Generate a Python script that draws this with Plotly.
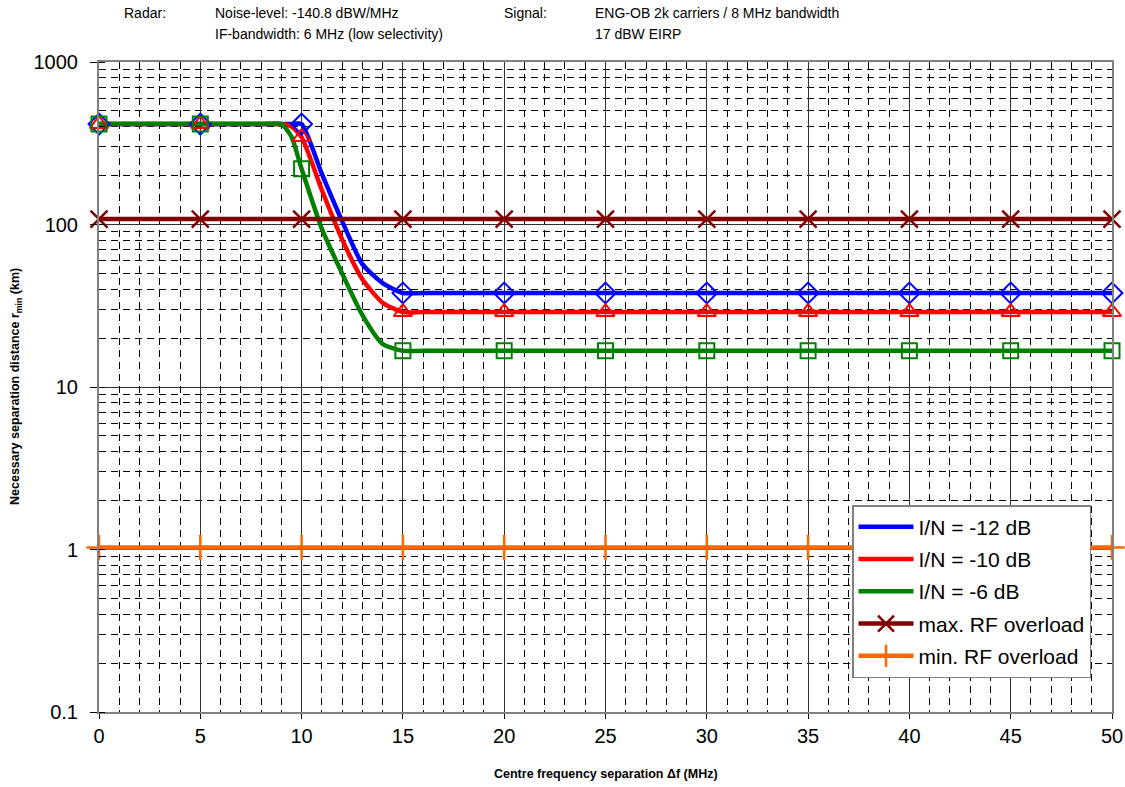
import plotly.graph_objects as go

# Centre frequency separation (MHz) for the interference curves
freq = [0, 5, 8, 9, 9.5, 10, 11, 12, 13, 14, 15, 16, 20, 25, 30, 35, 40, 45, 50]
# Necessary separation distance (km) per protection criterion
in_12 = [415, 415, 415, 415, 415, 415, 205, 105, 57, 43.6, 37.9, 37.9, 37.9, 37.9, 37.9, 37.9, 37.9, 37.9, 37.9]
in_10 = [415, 415, 415, 415, 400, 345, 163, 81, 46, 33, 28.9, 28.9, 28.9, 28.9, 28.9, 28.9, 28.9, 28.9, 28.9]
in_6 = [415, 415, 415, 415, 347, 220, 94, 50, 27.7, 18.4, 16.7, 16.7, 16.7, 16.7, 16.7, 16.7, 16.7, 16.7, 16.7]

# RF overload limits
freq_rf = [0, 5, 10, 15, 20, 25, 30, 35, 40, 45, 50]
max_rf = [108] * len(freq_rf)
min_rf = [1.03] * len(freq_rf)

y_ticks = [0.1, 1, 10, 100, 1000]
y_ticklabels = ["0.1", "1", "10", "100", "1000"]
x_ticks = [0, 5, 10, 15, 20, 25, 30, 35, 40, 45, 50]

FONT = "Liberation Sans, Arial, sans-serif"

# plot area in pixels
L, R, T, B = 99, 1112, 62, 712
W, H = R - L, B - T

fig = go.Figure()

curves = [
    ("I/N = -12 dB", in_12, "#0000FF", "diamond-open", 16),
    ("I/N = -10 dB", in_10, "#FF0000", "triangle-up-open", 16),
    ("I/N = -6 dB", in_6, "#008000", "square-open", 15),
]

for i, (name, vals, color, sym, size) in enumerate(curves):
    fig.add_trace(go.Scatter(
        x=freq, y=vals, mode="lines", name=name,
        line=dict(color=color, width=4.5, shape="spline", smoothing=0.6),
        legendgroup=f"g{i}", showlegend=True,
    ))

# markers on the 5 MHz grid points of each curve
for i, (name, vals, color, sym, size) in enumerate(curves):
    mx = [f for f in freq if f % 5 == 0]
    my = [v for f, v in zip(freq, vals) if f % 5 == 0]
    fig.add_trace(go.Scatter(
        x=mx, y=my, mode="markers", showlegend=False, legendgroup=f"g{i}",
        marker=dict(symbol=sym, size=size, color=color, line=dict(color=color, width=2)),
        cliponaxis=False, hoverinfo="skip",
    ))

fig.add_trace(go.Scatter(
    x=freq_rf, y=max_rf, mode="lines+markers", name="max. RF overload",
    line=dict(color="#800000", width=4.5),
    marker=dict(symbol="x-thin", size=17, color="#800000", line=dict(color="#800000", width=2.5)),
    legendgroup="g3", cliponaxis=False,
))
fig.add_trace(go.Scatter(
    x=freq_rf, y=min_rf, mode="lines+markers", name="min. RF overload",
    line=dict(color="#FF6600", width=4.5),
    marker=dict(symbol="cross-thin", size=18, color="#FF6600", line=dict(color="#FF6600", width=2.5)),
    legendgroup="g4", cliponaxis=False,
))

fig.update_layout(
    width=1125, height=787,
    margin=dict(l=L, r=1125 - R, t=T, b=787 - B, autoexpand=False),
    paper_bgcolor="white", plot_bgcolor="white",
    font=dict(family=FONT, color="black", size=20),
    showlegend=True,
    legend=dict(
        x=(852 - L) / W, y=(B - 505) / H, xanchor="left", yanchor="top",
        bgcolor="white", bordercolor="#808080", borderwidth=1.5,
        font=dict(size=21, family=FONT), traceorder="grouped", tracegroupgap=2,
        itemwidth=55,
    ),
    xaxis=dict(
        range=[0, 50], tickvals=x_ticks, ticks="outside", ticklen=5, tickcolor="black",
        showline=True, linecolor="#808080", linewidth=2, mirror=True,
        showgrid=True, gridcolor="#303030", gridwidth=1,
        minor=dict(dtick=1, showgrid=True, gridcolor="black", gridwidth=1, griddash="7px,5px"),
        tickfont=dict(size=20), zeroline=False, ticklabelstandoff=0,
    ),
    yaxis=dict(
        type="log", range=[-1, 3], tickvals=y_ticks, ticktext=y_ticklabels,
        ticks="outside", ticklen=7, tickcolor="black",
        showline=True, linecolor="#808080", linewidth=2, mirror=True,
        showgrid=True, gridcolor="#303030", gridwidth=1,
        minor=dict(dtick="D1", showgrid=True, gridcolor="black", gridwidth=1, griddash="7px,5px",
                   ticks="inside", ticklen=6, tickcolor="black"),
        tickfont=dict(size=20), zeroline=False, ticklabelstandoff=8,
    ),
)

# axis titles
fig.add_annotation(
    text="<b>Centre frequency separation Δf (MHz)</b>", xref="paper", yref="paper",
    x=0.5, y=(B - 774) / H, xanchor="center", yanchor="middle", showarrow=False,
    font=dict(size=12.5, family=FONT),
)
fig.add_annotation(
    text="<b>Necessary separation distance r<sub>min</sub> (km)</b>", xref="paper", yref="paper",
    x=(16 - L) / W, y=0.5, xanchor="center", yanchor="middle", showarrow=False,
    textangle=-90, font=dict(size=12.5, family=FONT),
)

header = [
    ("Radar:", 122, 13),
    ("Noise-level: -140.8 dBW/MHz", 213, 13),
    ("IF-bandwidth: 6 MHz (low selectivity)", 213, 34),
    ("Signal:", 502, 13),
    ("ENG-OB 2k carriers / 8 MHz bandwidth", 593, 13),
    ("17 dBW EIRP", 593, 34),
]
for text, px, py in header:
    fig.add_annotation(
        text=text, xref="paper", yref="paper",
        x=(px - L) / W, y=(B - py) / H,
        xanchor="left", yanchor="middle", showarrow=False,
        font=dict(size=14, family=FONT),
    )

fig.write_html("out.html")
